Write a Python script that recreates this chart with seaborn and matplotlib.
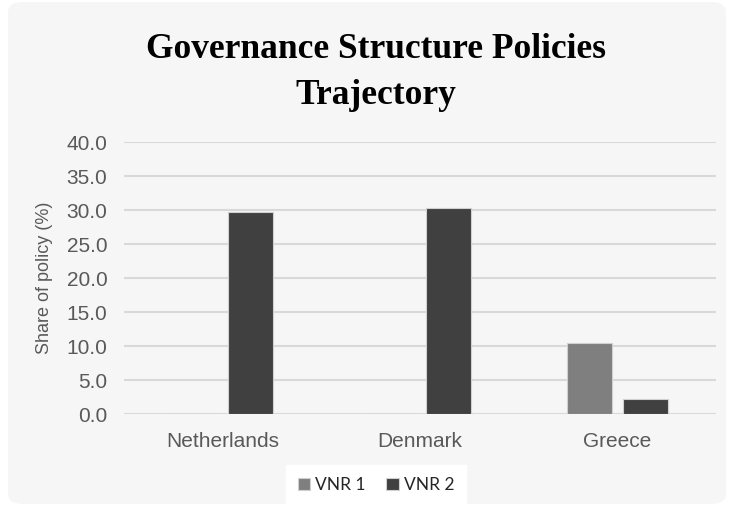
import matplotlib
matplotlib.use("Agg")
import matplotlib.pyplot as plt
import seaborn as sns
import pandas as pd
from matplotlib.patches import FancyBboxPatch

countries = ["Netherlands", "Denmark", "Greece"]
series = ["VNR 1", "VNR 2"]
vnr1 = [0.0, 0.0, 10.4]
vnr2 = [29.7, 30.3, 2.2]
yticks = [0, 5, 10, 15, 20, 25, 30, 35, 40]

df = pd.DataFrame({
    "country": countries * 2,
    "series": [series[0]] * 3 + [series[1]] * 3,
    "value": vnr1 + vnr2,
})

sns.set_theme(style="white")
plt.rcParams['font.family'] = ['Liberation Sans', 'DejaVu Sans']

W, H = 734, 514
fig = plt.figure(figsize=(W / 100, H / 100), dpi=100)
fig.patch.set_facecolor("white")
bg = FancyBboxPatch((8 / W, 10 / H), 718 / W, 502 / H,
                    boxstyle="round,pad=0,rounding_size=0.02",
                    transform=fig.transFigure, facecolor="#f6f6f6",
                    edgecolor="none", zorder=-10)
fig.patches.append(bg)

ax = fig.add_axes([124 / W, (H - 414) / H, 592 / W, 272 / H])
ax.set_zorder(1)
ax.set_facecolor("none")

palette = {"VNR 1": "#7f7f7f", "VNR 2": "#404040"}
sns.barplot(data=df, x="country", y="value", hue="series", palette=palette,
            width=0.57, gap=0.2, ax=ax, edgecolor="#d0d0d0", linewidth=0.8,
            saturation=1, legend=True, zorder=3)

ax.set_xlim(-0.5, 2.5)
ax.set_ylim(0, 40)
ax.set_yticks(yticks)
ax.set_yticklabels([f"{v:.1f}" for v in yticks], fontsize=15, color="#595959")
ax.tick_params(axis="x", labelsize=15, labelcolor="#595959", length=0, pad=13)
ax.tick_params(axis="y", length=0, pad=12)
ax.yaxis.grid(True, color="#d9d9d9", linewidth=1.5, zorder=0)
ax.set_axisbelow(True)
for s in ax.spines.values():
    s.set_visible(False)
ax.set_xlabel("")
ax.set_ylabel("Share of policy (%)", fontsize=13, color="#595959", labelpad=10)

leg = ax.legend(loc="center", bbox_to_anchor=(376 / W, (H - 485) / H),
                bbox_transform=fig.transFigure, ncol=2, frameon=True,
                fancybox=False, facecolor="white", edgecolor="white",
                framealpha=1, handlelength=0.7, handleheight=0.7,
                handletextpad=0.3, columnspacing=1.2, borderpad=0.7,
                prop={"family": "Lato", "size": 12.5})
for t in leg.get_texts():
    t.set_color("#262626")

fig.text(376 / W, (H - 50) / H, "Governance Structure Policies",
         ha="center", va="center", fontsize=25.5, fontweight="bold",
         family="Liberation Serif", color="black")
fig.text(376 / W, (H - 95) / H, "Trajectory",
         ha="center", va="center", fontsize=25.5, fontweight="bold",
         family="Liberation Serif", color="black")

fig.savefig("out.png", dpi=100)
